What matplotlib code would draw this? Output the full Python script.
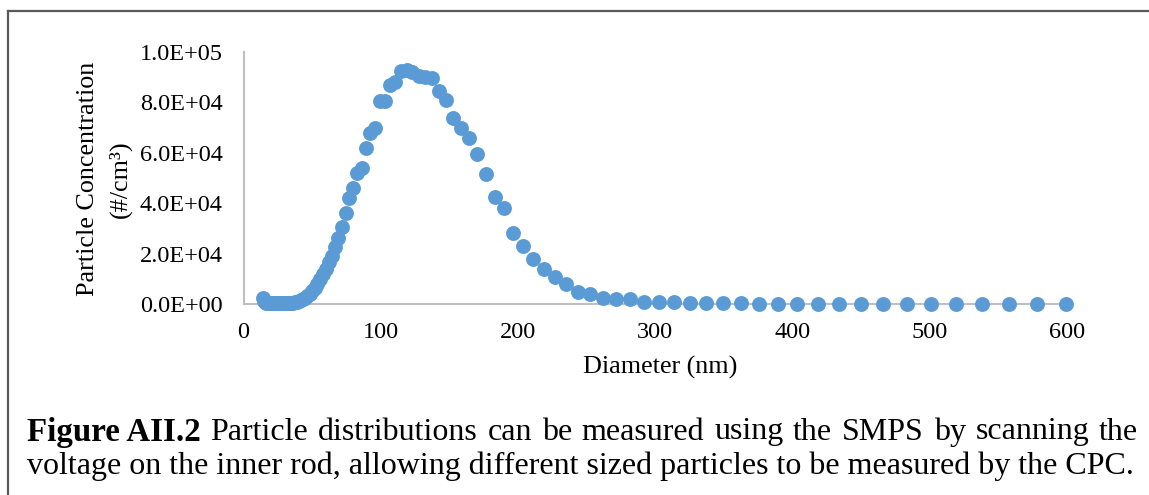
import matplotlib
matplotlib.use("Agg")
import matplotlib.pyplot as plt
from matplotlib.lines import Line2D

# SMPS scan: bin mid-point diameters (nm) and number concentration (#/cm3)
diameter_nm = [
    14.2, 14.7, 15.3, 15.9, 16.5, 17.0, 17.7, 18.3, 19.0, 19.7, 20.4, 21.1,
    21.9, 22.7, 23.5, 24.3, 25.3, 26.2, 27.2, 28.2, 29.2, 30.3, 31.4, 32.5,
    33.7, 34.9, 36.3, 37.6, 38.9, 40.4, 41.8, 43.3, 44.9, 46.6, 48.3, 50.1,
    51.9, 53.8, 55.8, 57.9, 60.0, 62.1, 64.4, 66.8, 69.2, 71.7, 74.4, 77.2,
    79.9, 82.8, 86.0, 89.1, 92.3, 95.6, 99.2, 102.8, 106.6, 110.5, 114.5,
    118.8, 123.1, 127.6, 132.3, 137.2, 142.1, 147.4, 152.7, 158.4, 164.1,
    170.2, 176.4, 182.9, 189.6, 196.5, 203.7, 211.2, 218.9, 226.9, 235.2,
    243.8, 252.8, 262.1, 271.7, 281.6, 291.9, 302.6, 313.7, 325.2, 337.1,
    349.5, 362.3, 375.5, 389.3, 403.5, 418.3, 433.7, 449.6, 466.0, 483.1,
    500.8, 519.1, 538.1, 557.8, 578.2, 599.4,
]
concentration = [
    2200, 1500, 1000, 700, 500, 400, 350, 300, 300, 300, 300, 300,
    300, 300, 300, 300, 300, 300, 300, 300, 320, 340, 360, 380,
    400, 450, 500, 600, 800, 1100, 1400, 1800, 2300, 3000, 4000, 5000,
    6500, 8000, 9800, 12000, 14000, 16500, 19000, 22500, 26000, 30500, 36000, 42000,
    46000, 52000, 54000, 62000, 68000, 70000, 80500, 80500, 87000, 88000, 92500,
    93000, 92000, 90500, 90000, 89700, 84500, 81000, 74000, 70000, 66000,
    59500, 51600, 42500, 38000, 28000, 23000, 17900, 13900, 10700, 7900,
    4800, 4000, 2400, 1900, 1800, 800, 700, 600, 400, 300,
    250, 200, 150, 120, 100, 80, 70, 60, 50, 40,
    40, 30, 30, 20, 20, 20,
]

y_ticks = [0, 20000, 40000, 60000, 80000, 100000]
y_tick_labels = ["0.0E+00", "2.0E+04", "4.0E+04", "6.0E+04", "8.0E+04", "1.0E+05"]
x_ticks = [0, 100, 200, 300, 400, 500, 600]

caption_bold = "Figure AII.2"
caption_line1 = "Particle distributions can be measured using the SMPS by scanning the"
caption_line2 = "voltage on the inner rod, allowing different sized particles to be measured by the CPC."

W, H = 1149, 495
plt.rcParams["font.family"] = ["Liberation Serif", "DejaVu Serif"]
fig = plt.figure(figsize=(W / 100, H / 100), dpi=100)

# axes placed in pixel terms
ax_left, ax_right, ax_top, ax_bottom = 243.5, 1067, 52, 304
ax = fig.add_axes([ax_left / W, 1 - ax_bottom / H,
                   (ax_right - ax_left) / W, (ax_bottom - ax_top) / H])
ax.scatter(diameter_nm, concentration, s=115, color="#5b9bd5", zorder=3,
           linewidths=0, clip_on=False)
ax.set_xlim(0, 600)
ax.set_ylim(0, 100000)
ax.set_xticks(x_ticks)
ax.set_yticks(y_ticks)
ax.set_yticklabels(y_tick_labels)
ax.tick_params(length=0, labelsize=17.5, colors="black")
ax.tick_params(axis="y", pad=15)
ax.tick_params(axis="x", pad=13)
for side in ("top", "right"):
    ax.spines[side].set_visible(False)
for side in ("left", "bottom"):
    ax.spines[side].set_color("#bfbfbf")
    ax.spines[side].set_linewidth(1.5)

fig.text(88 / W, 1 - 179 / H, "Particle Concentration", rotation=90,
         ha="center", va="center", fontsize=18.8)
fig.text(120 / W, 1 - 179 / H, "(#/cm³)", rotation=90,
         ha="center", va="center", fontsize=18.8)
fig.text(660 / W, 1 - 367 / H, "Diameter (nm)", ha="center", va="center",
         fontsize=18.8)

# frame lines at top and left
fig.add_artist(Line2D([8 / W, 1], [1 - 10.5 / H, 1 - 10.5 / H],
                      transform=fig.transFigure, color="#595959", lw=1.6))
fig.add_artist(Line2D([8 / W, 8 / W], [0, 1 - 10.5 / H],
                      transform=fig.transFigure, color="#595959", lw=1.6))

# caption, first line justified across the width
cap_fs = 23
cap_left, cap_right = 27, 1138
fig.canvas.draw()
renderer = fig.canvas.get_renderer()

words = [(caption_bold, "bold")] + [(w, "normal") for w in caption_line1.split()]
texts = []
total_w = 0.0
for w, wt in words:
    t = fig.text(0, 1 - 432 / H, w, fontsize=cap_fs + (0.8 if wt == "bold" else 0),
                 fontweight=wt, ha="left", va="center")
    bb = t.get_window_extent(renderer)
    texts.append((t, bb.width))
    total_w += bb.width
gap = (cap_right - cap_left - total_w) / (len(words) - 1)
x = cap_left
for t, wpx in texts:
    t.set_x(x / W)
    x += wpx + gap

fig.text(cap_left / W, 1 - 466 / H, caption_line2, fontsize=cap_fs,
         ha="left", va="center")

fig.savefig("out.png", dpi=100)
